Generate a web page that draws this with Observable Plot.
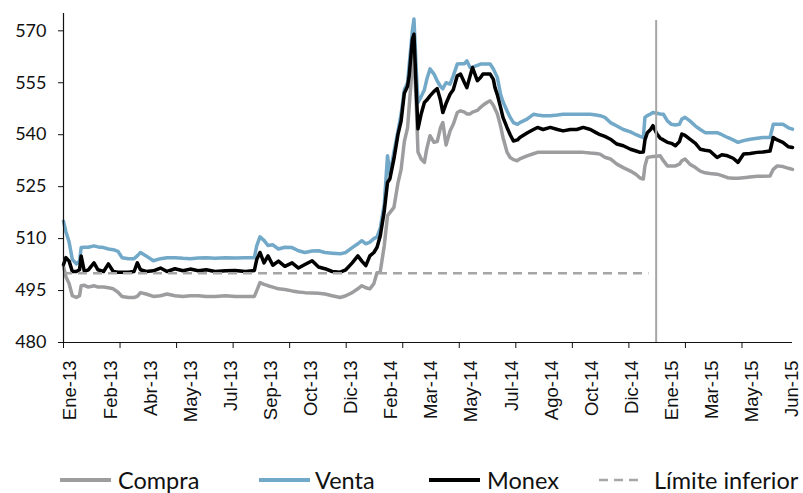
<!DOCTYPE html>
<html>
<head>
<meta charset="utf-8">
<script src="https://cdn.jsdelivr.net/npm/d3@7"></script>
<script src="https://cdn.jsdelivr.net/npm/@observablehq/plot@0.6"></script>
<style>
  body { margin: 0; background: #fff; }
  #wrap { width: 803px; height: 493px; position: relative; overflow: hidden; }
  #legend { position: relative; width: 803px; height: 48px; font-family: Lato, "Open Sans", sans-serif; font-size: 23.5px; color: #111; }
  .item { position: absolute; top: 22px; height: 26px; display: flex; align-items: center; white-space: nowrap; }
  .item svg { display: block; }
</style>
</head>
<body>
<div id="wrap">
<div id="chart"></div>
<div id="legend"></div>
</div>
<script>
// ---- data ----
const dates = ["2013-01-02","2013-01-05","2013-01-09","2013-01-13","2013-01-18","2013-01-22","2013-01-24","2013-01-28","2013-02-02","2013-02-09",
"2013-02-14","2013-02-21","2013-02-27","2013-03-05","2013-03-11","2013-03-16","2013-03-24","2013-03-31","2013-04-04","2013-04-08",
"2013-04-15","2013-04-24","2013-05-03","2013-05-11","2013-05-21","2013-05-31","2013-06-09","2013-06-19","2013-06-29","2013-07-10",
"2013-07-23","2013-08-04","2013-08-17","2013-08-28","2013-08-31","2013-09-04","2013-09-09","2013-09-14","2013-09-20","2013-09-27",
"2013-10-05","2013-10-14","2013-10-22","2013-10-30","2013-11-08","2013-11-16","2013-11-24","2013-12-03","2013-12-13","2013-12-20",
"2013-12-28","2014-01-04","2014-01-09","2014-01-14","2014-01-19","2014-01-24","2014-01-28","2014-02-01","2014-02-06","2014-02-10",
"2014-02-13","2014-02-18","2014-02-23","2014-02-27","2014-03-03","2014-03-07","2014-03-09","2014-03-13","2014-03-15","2014-03-18",
"2014-03-20","2014-03-24","2014-03-28","2014-03-31","2014-04-04","2014-04-09","2014-04-13","2014-04-17","2014-04-20","2014-04-24",
"2014-04-29","2014-05-03","2014-05-08","2014-05-12","2014-05-17","2014-05-20","2014-05-24","2014-05-27","2014-06-02","2014-06-06",
"2014-06-09","2014-06-14","2014-06-18","2014-06-22","2014-06-24","2014-06-27","2014-07-01","2014-07-04","2014-07-09","2014-07-13",
"2014-07-17","2014-07-22","2014-07-25","2014-08-03","2014-08-11","2014-08-16","2014-08-23","2014-09-01","2014-09-10","2014-09-17",
"2014-09-26","2014-10-04","2014-10-12","2014-10-21","2014-10-28","2014-11-02","2014-11-08","2014-11-15","2014-11-23","2014-12-01",
"2014-12-10","2014-12-17","2014-12-22","2014-12-26","2014-12-28","2014-12-31","2015-01-04","2015-01-07","2015-01-12","2015-01-16",
"2015-01-20","2015-01-25","2015-01-30","2015-02-04","2015-02-09","2015-02-12","2015-02-16","2015-02-22","2015-03-01","2015-03-07",
"2015-03-13","2015-03-19","2015-03-28","2015-04-03","2015-04-10","2015-04-17","2015-04-23","2015-04-30","2015-05-08","2015-05-17",
"2015-05-24","2015-06-02","2015-06-06","2015-06-11","2015-06-18","2015-06-25","2015-06-30"];

const compra = [502,499,497,493.5,493,493.5,496.4,496.5,496,496.4,
496,496,495.8,495.5,494.5,493.3,493,493,493.3,494.4,
494,493.3,493.5,494,493.5,493.3,493.5,493.5,493.3,493.3,
493.5,493.3,493.3,493.3,495,497.3,496.8,496.4,496,495.5,
495.3,494.9,494.6,494.4,494.3,494.2,494,493.5,493,493.5,
494.4,495.5,496.4,495.8,495.5,497,500.2,500.5,508,516.6,
517.5,519,526,530,538,542,548,560,563,548,
535,533,532,536,539.7,537.8,538,542,543.5,537,
541.1,543,546.4,546.9,546.5,546,546,546.5,547,547.9,
548.5,549.3,549.8,548.5,547.5,546,542.5,539.2,535,533.4,
532.8,532.5,533,533.9,534.5,534.9,534.9,534.9,534.9,534.9,
534.9,534.9,534.9,534.7,534.6,534.4,533.5,533,531.5,530.5,
529.5,528.5,527.5,527.2,531,533.4,533.6,533.7,533.8,533.9,
532.5,531,531,531,531.5,532.5,533,531.5,530.5,529.5,
529,528.8,528.6,528.2,527.6,527.4,527.4,527.6,527.8,528,
528,528.1,530,531,530.8,530.3,530];

const venta = [515,512,509,504,502.7,503.5,507.4,507.5,507.5,507.9,
507.6,507.4,507,506.8,506.3,504.5,504.2,504.2,505,506,
505,503.6,504.2,504.5,504.5,504.3,504.2,504.4,504.5,504.3,
504.5,504.4,504.5,504.5,508,510.5,509.5,508,508.2,507,
507.5,507.4,506.5,506,506.4,506.5,506,505.8,505.6,506,
507.4,508.5,509.4,508.5,509,510,510.5,513,520,533.9,
528.5,535,541,546,553,555,560,570,573.4,558,
549.3,551,553,556,559,557.5,555.5,554,553.3,555,
554.6,557,560.4,560.5,560.5,561.3,559.4,559.5,560,560.4,
560.4,560.4,560.4,559,558,556.5,551.7,549.5,546.9,545,
543.5,543,543.5,544.5,545.9,545.7,545.5,545.5,545.7,545.9,
545.9,545.9,545.9,545.9,545.7,545.5,545,543.5,542.5,541.5,
540.8,540,539.5,539.2,545,545.5,546,546.4,546.2,546,
545.9,544,543,542.8,543,544.5,545,544,542.5,541.5,
540.6,540.6,540.6,540,539.2,538.5,537.8,538.3,538.7,539,
539.2,539.2,543,543,543,542,541.6];

const monex = [502.5,504.5,503.5,500.5,500.5,501,505,500.5,501,503,
501,500.5,502.7,500.5,500.3,500.3,500.3,500.5,503,501,
500.5,500.7,501.5,500.5,501.3,500.7,501.2,500.7,501,500.5,
500.7,500.8,500.5,500.8,504,506,503,505,502.3,503.5,
502,503,501.5,502.5,503.6,501.8,501.3,500.5,500.3,501,
503,505,503.5,502.2,505,506,507.5,510.8,518,526.2,
527.3,533,540,544,552,554,557,567.5,569,552,
541.7,546,549.3,550,551.2,552.5,553.3,550,546.4,549,
551.7,553,557,557.5,555,553.6,557,559.4,555.6,556.5,
557.5,557.5,557.5,556,553.6,551.5,547.9,545,542.1,540,
538.2,538.5,539.2,540.5,541.5,542.1,541.5,542.1,541.5,541.1,
541.5,541.5,542.1,541.5,540.6,540,539.5,538.7,537.3,536.8,
535.8,535.3,534.9,535,538.5,540.6,541.5,542.6,540.2,539,
538.5,537.8,537.5,536.8,538,540.2,539.8,538.7,537.5,535.8,
535.5,535.3,533.4,534.2,533.9,533.2,532,534.4,534.6,534.9,
535,535.3,539.2,538.5,537.8,536.5,536.3];

const limiteValue = 500;
const limiteStart = "2013-01-02";
const limiteEnd = "2015-01-02";
const markerDate = "2015-01-11";

const yTicks = [480, 495, 510, 525, 540, 555, 570];
const xLabels = ["Ene-13","Feb-13","Abr-13","May-13","Jul-13","Sep-13","Oct-13","Dic-13","Feb-14","Mar-14",
"May-14","Jul-14","Ago-14","Oct-14","Dic-14","Ene-15","Mar-15","May-15","Jun-15"];
const seriesNames = ["Compra", "Venta", "Monex", "Límite inferior"];
const seriesColors = ["#9d9d9f", "#72a8c8", "#000000", "#a6a6a6"];

// ---- build ----
const parse = d3.utcParse("%Y-%m-%d");
const rows = dates.map((d, i) => ({date: parse(d), compra: compra[i], venta: venta[i], monex: monex[i]}));
const x0 = parse(dates[0]), x1 = parse(dates[dates.length - 1]);
const DAY = 864e5;
const labelDates = xLabels.map((_, k) => new Date(+x0 + k * 50 * DAY));
const labelMap = new Map(labelDates.map((d, k) => [+d, xLabels[k]]));
const tickDates = d3.range(13).map(k => new Date(+x0 + k * 70.5 * DAY));

const chart = Plot.plot({
  width: 803,
  height: 445,
  marginLeft: 63,
  marginRight: 11,
  marginTop: 13,
  marginBottom: 103,
  style: {background: "white", color: "#111", fontFamily: "Lato, sans-serif"},
  x: {type: "utc", domain: [x0, x1]},
  y: {domain: [480, 575]},
  marks: [
    Plot.line(rows, {x: "date", y: "compra", stroke: seriesColors[0], strokeWidth: 3.5}),
    Plot.line(rows, {x: "date", y: "venta", stroke: seriesColors[1], strokeWidth: 3.5}),
    Plot.line(rows, {x: "date", y: "monex", stroke: seriesColors[2], strokeWidth: 3.5}),
    Plot.ruleY([limiteValue], {x1: parse(limiteStart), x2: parse(limiteEnd), stroke: seriesColors[3], strokeWidth: 2.5, strokeDasharray: "9,6"}),
    Plot.ruleX([parse(markerDate)], {y1: 480, y2: 573, stroke: "#a6a6a6", strokeWidth: 2}),
    Plot.ruleX([x0], {y1: 480, y2: 575, stroke: "#111", strokeWidth: 1.2}),
    Plot.ruleY([480], {x1: x0, x2: x1, stroke: "#111", strokeWidth: 1.2}),
    Plot.axisY({ticks: yTicks, tickSize: 5, tickPadding: 12, label: null, fontSize: 18, fontFamily: "Lato"}),
    Plot.axisX({ticks: tickDates, tickSize: 6, tickFormat: () => "", label: null}),
    Plot.axisX({ticks: labelDates, tickSize: 0, tickPadding: 18, tickRotate: -90, dx: 7,
      tickFormat: d => labelMap.get(+d), label: null, fontSize: 18.5, fontFamily: "Liberation Sans, Arial, sans-serif"})
  ]
});
document.getElementById("chart").appendChild(chart);

// ---- legend ----
const legendPos = [{sw: 60, tx: 118}, {sw: 259, tx: 315}, {sw: 429, tx: 487}, {sw: 599, tx: 654}];
const legend = document.getElementById("legend");
seriesNames.forEach((name, i) => {
  const item = document.createElement("div");
  item.className = "item";
  item.style.left = legendPos[i].sw + "px";
  const w = legendPos[i].tx - legendPos[i].sw;
  const swW = i === 3 ? 42 : 51;
  const dash = i === 3 ? 'stroke-dasharray="9,6"' : "";
  const sw = i === 3 ? 2.5 : 4;
  item.innerHTML = `<svg width="${w}" height="10"><line x1="0" x2="${swW}" y1="5" y2="5" stroke="${seriesColors[i]}" stroke-width="${sw}" ${dash}/></svg><span>${name}</span>`;
  legend.appendChild(item);
});
</script>
</body>
</html>
